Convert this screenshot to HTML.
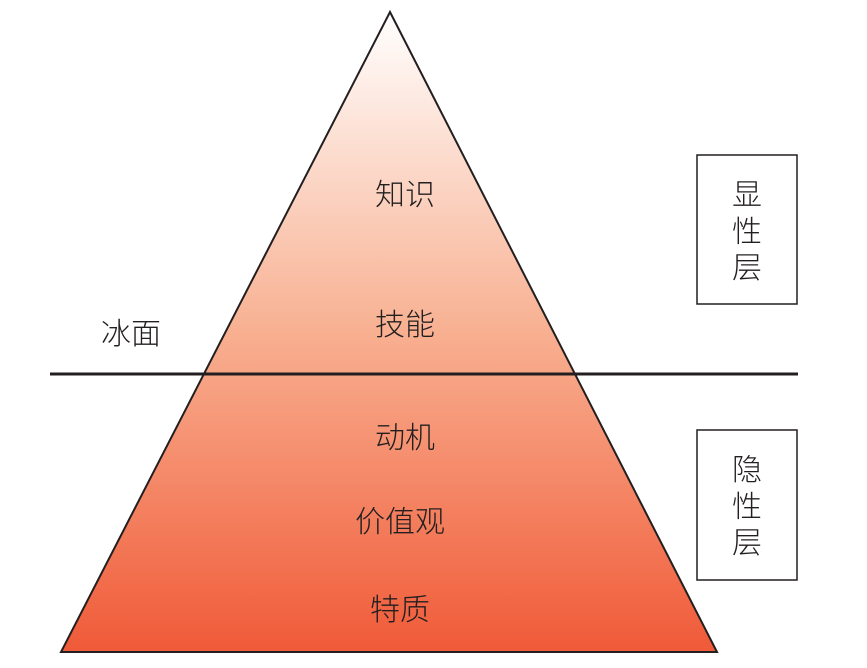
<!DOCTYPE html>
<html><head><meta charset="utf-8"><style>
body{margin:0;background:#fff;width:867px;height:663px;overflow:hidden}
text{font-family:"Liberation Sans","Noto Sans CJK SC",sans-serif;font-weight:300;font-size:30px;fill:#231f20}
</style></head><body>
<svg width="867" height="663" viewBox="0 0 867 663">
<defs><linearGradient id="g" x1="0" y1="12" x2="0" y2="652" gradientUnits="userSpaceOnUse">
<stop offset="0" stop-color="#ffffff"/><stop offset="0.5" stop-color="#f8b091"/><stop offset="1" stop-color="#f05a38"/></linearGradient></defs>
<polygon points="390,12 61,652 717,652" fill="url(#g)" stroke="#231f20" stroke-width="2"/>
<line x1="50" y1="374" x2="798" y2="374" stroke="#231f20" stroke-width="3"/>
<rect x="697" y="155" width="100" height="149" fill="#fff" stroke="#231f20" stroke-width="1.5"/>
<rect x="697" y="430" width="100" height="150" fill="#fff" stroke="#231f20" stroke-width="1.5"/>
<g text-anchor="middle">
<text x="405" y="205">知识</text>
<text x="405" y="335">技能</text>
<text x="405" y="448">动机</text>
<text x="400" y="532">价值观</text>
<text x="400" y="620">特质</text>
<text x="131" y="344">冰面</text>
<text x="747" y="205">显</text>
<text x="747" y="242">性</text>
<text x="747" y="278">层</text>
<text x="747" y="480">隐</text>
<text x="747" y="517">性</text>
<text x="747" y="553">层</text>
</g>
</svg>
</body></html>
